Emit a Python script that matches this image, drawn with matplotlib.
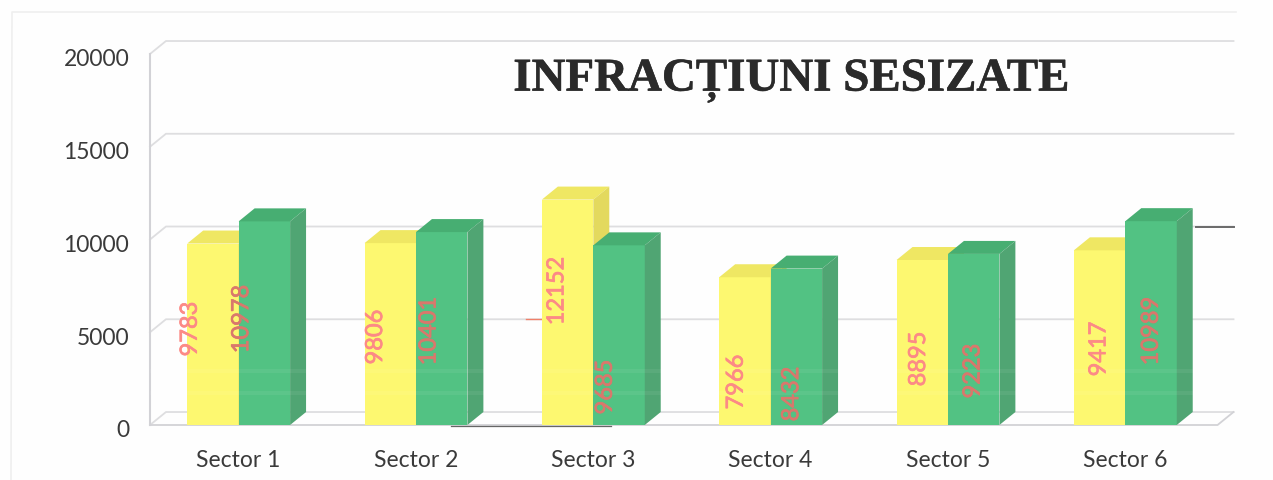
import matplotlib
matplotlib.use("Agg")
import matplotlib.pyplot as plt
from matplotlib.lines import Line2D
from matplotlib.transforms import ScaledTranslation
import matplotlib.patheffects as pe

categories = ["Sector 1", "Sector 2", "Sector 3", "Sector 4", "Sector 5", "Sector 6"]
yellow_values = [9783, 9806, 12152, 7966, 8895, 9417]
green_values = [10978, 10401, 9685, 8432, 9223, 10989]
y_ticks = [0, 5000, 10000, 15000, 20000]
title = "INFRACȚIUNI SESIZATE"

# placement of the rotated data labels, pixels from the left edge of each bar / baseline
yellow_label_dx = [3, 11, 15, 17, 22, 25]
yellow_label_dy = [96, 88, 134, 43, 66, 76]
green_label_dx = [3, 13, 12, 21, 25, 26]
green_label_dy = [106, 94, 38, 31, 54, 94]

W, H = 1273, 481
AX_L, AX_R, AX_T, AX_B = 150, 1214, 55, 426
BAR_W = 0.29
DEPTH_X = 0.09
DEPTH_Y = 700
GRID = "#DEDEE0"

plt.rcParams["font.family"] = ["Lato", "DejaVu Sans"]
fig = plt.figure(figsize=(W / 100, H / 100), dpi=100, facecolor="#FEFEFE")
ax = fig.add_axes([AX_L / W, 1 - AX_B / H, (AX_R - AX_L) / W, (AX_B - AX_T) / H])
ax.set_xlim(-0.5, 5.5)
ax.set_ylim(0, 20000)
ax.patch.set_alpha(0)
for s in ax.spines.values():
    s.set_visible(False)

x_left, x_right = -0.5, 5.52
# walls and floor
for v in y_ticks:
    ax.plot([x_left, x_left + DEPTH_X, x_right + DEPTH_X],
            [v, v + DEPTH_Y, v + DEPTH_Y], color=GRID, lw=1.3, zorder=1, clip_on=False)
ax.plot([x_left, x_left], [0, 20000], color="#D2D2D6", lw=1.5, zorder=1, clip_on=False)
ax.plot([x_left, x_right, x_right + DEPTH_X], [0, 0, DEPTH_Y], color="#D2D2D6", lw=1.3,
        zorder=1, clip_on=False)


def bars(left_edges, values, front, top, side, z):
    ax.bar(left_edges, values, width=BAR_W, align="edge", color=front, zorder=z, clip_on=False)
    for x0, v in zip(left_edges, values):
        x1 = x0 + BAR_W
        ax.fill([x0, x0 + DEPTH_X, x1 + DEPTH_X, x1], [v, v + DEPTH_Y, v + DEPTH_Y, v],
                color=top, lw=0, zorder=z, clip_on=False)
        ax.fill([x1, x1 + DEPTH_X, x1 + DEPTH_X, x1], [0, DEPTH_Y, v + DEPTH_Y, v],
                color=side, lw=0, zorder=z, clip_on=False)


pos = list(range(len(categories)))
bars([p - BAR_W for p in pos], yellow_values, "#FDF870", "#EFE763", "#E3D95E", 3)
bars(pos, green_values, "#52C283", "#47AE72", "#50A573", 4)

# faint scanner bands across the lower part of the bars
for v in (2900, 1750):
    ax.axhline(v, color="white", alpha=0.06, lw=3, zorder=5)

# scanner specks on the rules
ax.plot([1.2, 2.1], [-50, -50], color="#666666", lw=0.9, zorder=2, clip_on=False)
ax.plot([5.4, 5.61], [10700, 10700], color="#6A6A6A", lw=1.4, zorder=2, clip_on=False)
ax.plot([1.62, 1.72], [5700, 5700], color="#F0806A", lw=1.0, zorder=2, clip_on=False)

halo_y = [pe.withStroke(linewidth=0.5, foreground="#FC8A86")]
halo_g = [pe.withStroke(linewidth=0.5, foreground="#D9786C")]
for i, p in enumerate(pos):
    ax.annotate(str(yellow_values[i]), (p - BAR_W, 0),
                xytext=(yellow_label_dx[i], yellow_label_dy[i]), textcoords="offset pixels",
                rotation=90, ha="center", va="center", fontsize=17, color="#FC8A86", zorder=6,
                path_effects=halo_y)
    ax.annotate(str(green_values[i]), (p, 0),
                xytext=(green_label_dx[i], green_label_dy[i]), textcoords="offset pixels",
                rotation=90, ha="center", va="center", fontsize=17, color="#D9786C", zorder=6,
                path_effects=halo_g)

ax.set_xticks(pos, categories)
ax.set_yticks(y_ticks, [str(v) for v in y_ticks])
ax.tick_params(axis="both", length=0, colors="#3A3A3A")
ax.tick_params(axis="y", labelsize=16.5, pad=15)
ax.tick_params(axis="x", labelsize=16.5, pad=17)
for lab in ax.get_yticklabels():
    lab.set_transform(lab.get_transform() + ScaledTranslation(0, -2 / 72, fig.dpi_scale_trans))

t = fig.text(792 / W, 1 - 82 / H, title, family="Liberation Serif", weight="bold", fontsize=33.8,
             color="#2A2A2A", ha="center", va="center", zorder=10)
t.set_path_effects([pe.withStroke(linewidth=0.4, foreground="#2A2A2A")])

# faint outer frame of the scanned chart
fig.add_artist(Line2D([11 / W, 12 / W, 1236 / W], [0, 1 - 13 / H, 1 - 13 / H],
                      color="#EFEFEF", lw=1.2))

fig.savefig("out.png", dpi=100, facecolor=fig.get_facecolor())
